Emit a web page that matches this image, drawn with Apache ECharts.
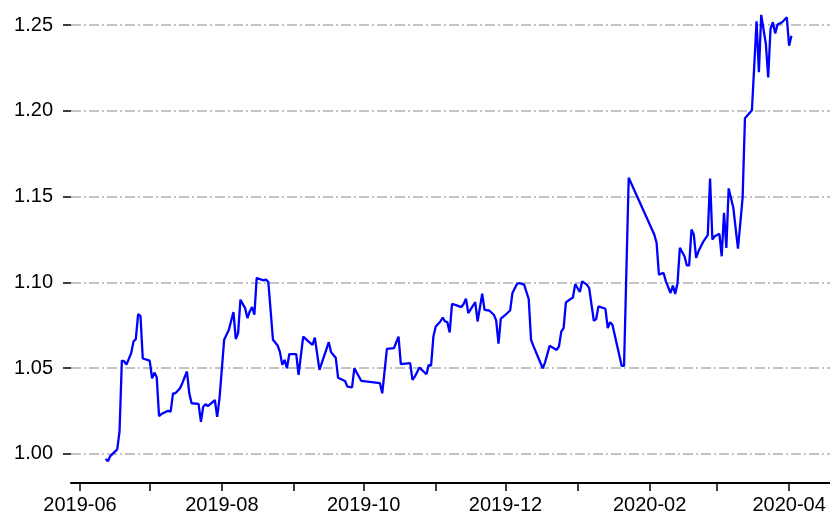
<!DOCTYPE html>
<html>
<head>
<meta charset="utf-8">
<script src="https://cdn.jsdelivr.net/npm/echarts@6/dist/echarts.min.js"></script>
<style>
  html, body { margin: 0; padding: 0; background: #fff; }
  #chart { width: 830px; height: 516px; }
</style>
</head>
<body>
<div id="chart"></div>
<script>
const fechas = [
  '2019-06-12','2019-06-13','2019-06-14','2019-06-17','2019-06-18','2019-06-19','2019-06-20','2019-06-21',
  '2019-06-23','2019-06-24','2019-06-25','2019-06-26','2019-06-27','2019-06-28','2019-06-30',
  '2019-07-01','2019-07-02','2019-07-03','2019-07-04','2019-07-05','2019-07-06','2019-07-08','2019-07-09',
  '2019-07-10','2019-07-11','2019-07-12','2019-07-14','2019-07-15','2019-07-17','2019-07-18','2019-07-19',
  '2019-07-22','2019-07-23','2019-07-24','2019-07-25','2019-07-26','2019-07-29','2019-07-30','2019-07-31',
  '2019-08-02','2019-08-04','2019-08-06','2019-08-07','2019-08-08','2019-08-09','2019-08-11','2019-08-12',
  '2019-08-13','2019-08-14','2019-08-15','2019-08-16','2019-08-17','2019-08-19','2019-08-20','2019-08-21',
  '2019-08-23','2019-08-25','2019-08-26','2019-08-27','2019-08-28','2019-08-29','2019-08-30',
  '2019-09-02','2019-09-03','2019-09-05','2019-09-07','2019-09-09','2019-09-10','2019-09-12','2019-09-16',
  '2019-09-17','2019-09-19','2019-09-20','2019-09-23','2019-09-24','2019-09-26','2019-09-27','2019-09-30',
  '2019-10-08','2019-10-09','2019-10-11','2019-10-14','2019-10-16','2019-10-17','2019-10-21','2019-10-22',
  '2019-10-23','2019-10-25','2019-10-28','2019-10-29','2019-10-30','2019-10-31',
  '2019-11-01','2019-11-03','2019-11-04','2019-11-05','2019-11-06','2019-11-07','2019-11-08','2019-11-10',
  '2019-11-12','2019-11-13','2019-11-14','2019-11-15','2019-11-18','2019-11-19','2019-11-21','2019-11-22',
  '2019-11-24','2019-11-26','2019-11-27','2019-11-28','2019-11-29',
  '2019-12-01','2019-12-03','2019-12-04','2019-12-06','2019-12-07','2019-12-09','2019-12-11','2019-12-12',
  '2019-12-13','2019-12-17','2019-12-18','2019-12-20','2019-12-23','2019-12-24','2019-12-25','2019-12-26',
  '2019-12-27','2019-12-29','2019-12-30','2019-12-31',
  '2020-01-02','2020-01-03','2020-01-05','2020-01-06','2020-01-07','2020-01-08','2020-01-09','2020-01-10',
  '2020-01-13','2020-01-14','2020-01-15','2020-01-16','2020-01-20','2020-01-21','2020-01-23',
  '2020-02-03','2020-02-04','2020-02-05','2020-02-07','2020-02-08','2020-02-10','2020-02-11','2020-02-12',
  '2020-02-13','2020-02-14','2020-02-16','2020-02-17','2020-02-18','2020-02-19','2020-02-20','2020-02-21',
  '2020-02-22','2020-02-24','2020-02-26','2020-02-27','2020-02-28','2020-02-29',
  '2020-03-02','2020-03-03','2020-03-04','2020-03-05','2020-03-06','2020-03-08','2020-03-10','2020-03-12',
  '2020-03-13','2020-03-16','2020-03-18','2020-03-19','2020-03-20','2020-03-22','2020-03-23','2020-03-24',
  '2020-03-25','2020-03-26','2020-03-27','2020-03-29','2020-03-31','2020-04-01','2020-04-02'
];

const valores = [
  0.997, 0.9957, 0.9987, 1.0026, 1.013, 1.0544, 1.054, 1.052,
  1.0587, 1.0655, 1.0669, 1.0815, 1.0805, 1.0556, 1.0548,
  1.0542, 1.0441, 1.0474, 1.0447, 1.022, 1.0232, 1.0246, 1.0251,
  1.0246, 1.0353, 1.0353, 1.0382, 1.0412, 1.048, 1.0353, 1.0295,
  1.0291, 1.0187, 1.0275, 1.0289, 1.0279, 1.0314, 1.0216, 1.0324,
  1.0665, 1.0723, 1.0827, 1.067, 1.0704, 1.0899, 1.085, 1.0792,
  1.083, 1.0856, 1.0811, 1.1026, 1.102, 1.1012, 1.1016, 1.1002,
  1.0665, 1.0632, 1.0593, 1.0519, 1.0548, 1.0499, 1.0581,
  1.0581, 1.046, 1.0684, 1.0659, 1.0636, 1.0678, 1.049, 1.0651,
  1.0593, 1.0561, 1.0444, 1.0425, 1.0392, 1.0388, 1.0499, 1.0425,
  1.0412, 1.0353, 1.0612, 1.0616, 1.0684, 1.0523, 1.0529, 1.0431,
  1.045, 1.0503, 1.0464, 1.0519, 1.0515, 1.0684,
  1.0743, 1.0772, 1.0795, 1.0772, 1.0768, 1.0708, 1.0874, 1.0866,
  1.0856, 1.0874, 1.0905, 1.0821, 1.0885, 1.0772, 1.0934, 1.084,
  1.0836, 1.0811, 1.0778, 1.0642, 1.0788,
  1.0811, 1.0836, 1.0938, 1.0992, 1.0996, 1.0987, 1.0903, 1.0665,
  1.063, 1.0499, 1.0532, 1.063, 1.0606, 1.0626, 1.0713, 1.0733,
  1.0883, 1.0903, 1.0912, 1.099,
  1.0944, 1.1006, 1.0987, 1.0967, 1.087, 1.0776, 1.0786, 1.086,
  1.0846, 1.0733, 1.0768, 1.0753, 1.0513, 1.0513, 1.161,
  1.1279, 1.123, 1.1045, 1.1055, 1.1006, 1.0938, 1.0981, 1.0932,
  1.0996, 1.1201, 1.1152, 1.1099, 1.1099, 1.1308, 1.1279, 1.1143,
  1.1181, 1.1236, 1.1275, 1.1606, 1.125, 1.1269,
  1.1283, 1.1152, 1.1406, 1.1201, 1.1548, 1.1435, 1.1197, 1.1494,
  1.1957, 1.2004, 1.2523, 1.2225, 1.256, 1.239, 1.2195, 1.2478,
  1.2517, 1.2452, 1.2503, 1.2517, 1.2546, 1.238, 1.2438
];

// ticks del eje x: un tick por mes, etiqueta cada dos meses
const ticksMes = [
  '2019-06-01','2019-07-01','2019-08-01','2019-09-01','2019-10-01','2019-11-01',
  '2019-12-01','2020-01-01','2020-02-01','2020-03-01','2020-04-01'
];
const etiquetasMes = ['2019-06-01','2019-08-01','2019-10-01','2019-12-01','2020-02-01','2020-04-01'];

const ticksY = [1.00, 1.05, 1.10, 1.15, 1.20, 1.25];

const serie = fechas.map((f, i) => [f, valores[i]]);

const chart = echarts.init(document.getElementById('chart'));
const fuente = 'Liberation Sans';

chart.setOption({
    animation: false,
    backgroundColor: '#fff',
    grid: {
        left: 71,
        right: 0,
        top: 8,
        bottom: 33
    },
    xAxis: {
        type: 'time',
        min: '2019-05-28 03:00',
        max: '2020-04-18 14:00',
        axisLine: {show: true, lineStyle: {color: '#000', width: 2}},
        axisTick: {
            show: true,
            customValues: ticksMes,
            length: 8,
            lineStyle: {color: '#000', width: 1.5}
        },
        axisLabel: {
            customValues: etiquetasMes,
            formatter: '{yyyy}-{MM}',
            color: '#000',
            fontSize: 20,
            fontFamily: fuente,
            margin: 12
        },
        splitLine: {show: false}
    },
    yAxis: {
        type: 'value',
        min: 0.983,
        max: 1.26,
        axisLine: {show: false},
        axisTick: {
            show: true,
            customValues: ticksY,
            length: 8,
            lineStyle: {color: '#000', width: 1.5}
        },
        axisLabel: {
            customValues: ticksY,
            formatter: v => v.toFixed(2),
            color: '#000',
            fontSize: 20,
            fontFamily: fuente,
            margin: 18
        },
        splitLine: {
            show: true,
            lineStyle: {color: '#b0b0b0', width: 1.5, type: [10, 3, 2, 3]}
        }
    },
    series: [{
        name: 'valor',
        type: 'line',
        data: serie,
        showSymbol: false,
        lineStyle: {color: '#0000ff', width: 2.3},
        itemStyle: {color: '#0000ff'}
    }]
});
</script>
</body>
</html>
